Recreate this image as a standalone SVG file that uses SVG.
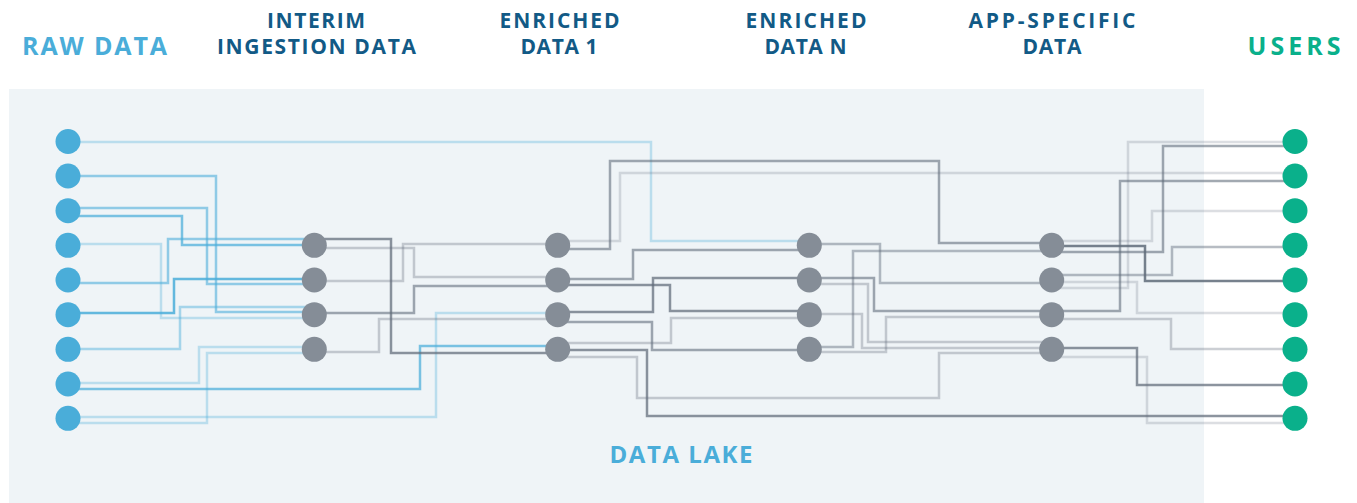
<svg xmlns="http://www.w3.org/2000/svg" width="1357" height="503" viewBox="0 0 1357 503">
<style>
.hd{font-family:"Open Sans","Noto Sans",sans-serif;font-weight:700;fill:#125A86;font-size:21px;text-anchor:middle}
.big{font-family:"Open Sans","Noto Sans",sans-serif;font-weight:700;font-size:25px;text-anchor:middle}
.ln{fill:none;stroke-width:2.5}
.b{stroke:#4AADD9}
.g{stroke:#5F6B79}
.o1{stroke-opacity:.22}.o2{stroke-opacity:.32}.o3{stroke-opacity:.45}.o4{stroke-opacity:.58}.o5{stroke-opacity:.72}.o6{stroke-opacity:.85}
.raw{fill:#4AADD9}.mid{fill:#858D97}.usr{fill:#0AB08B}
</style>
<rect x="9" y="89" width="1195" height="414" fill="#EFF4F7"/>
<g id="headers">
<text class="big" x="94.5" y="54.5" fill="#4AADD9" textLength="145" lengthAdjust="spacing">RAW DATA</text>
<text class="hd" x="316" y="28.3" textLength="98" lengthAdjust="spacing">INTERIM</text>
<text class="hd" x="316.5" y="54.3" textLength="199" lengthAdjust="spacing">INGESTION DATA</text>
<text class="hd" x="559.5" y="28.3" textLength="120" lengthAdjust="spacing">ENRICHED</text>
<text class="hd" x="559" y="54.3" textLength="77" lengthAdjust="spacing">DATA 1</text>
<text class="hd" x="806" y="28.3" textLength="121" lengthAdjust="spacing">ENRICHED</text>
<text class="hd" x="805.5" y="54.3" textLength="82" lengthAdjust="spacing">DATA N</text>
<text class="hd" x="1052" y="28.3" textLength="167" lengthAdjust="spacing">APP-SPECIFIC</text>
<text class="hd" x="1052" y="54.3" textLength="59" lengthAdjust="spacing">DATA</text>
<text class="big" x="1294" y="54.5" fill="#0AB08B" textLength="93" lengthAdjust="spacing">USERS</text>
<text class="big" x="681" y="462.5" fill="#4AADD9" style="font-size:24px" textLength="143" lengthAdjust="spacing">DATA LAKE</text>
</g>
<g id="connectors">
<path class="ln b o2" d="M68 142H651V241H810"/>
<path class="ln b o4" d="M68 176H216V312H314"/>
<path class="ln b o4" d="M68 208H207V284H314"/>
<path class="ln b o5" d="M68 216H182V245H314"/>
<path class="ln b o2" d="M68 244H161V318H314"/>
<path class="ln b o4" d="M68 283H168V239H314"/>
<path class="ln b o6" d="M68 313H174V279H314"/>
<path class="ln b o3" d="M68 349H180V307H314"/>
<path class="ln b o2" d="M68 383H199V347H314"/>
<path class="ln b o5" d="M68 389H420V346H558"/>
<path class="ln b o2" d="M68 417H436V313H558"/>
<path class="ln b o2" d="M68 423H207V353H314"/>
<path class="ln g o5" d="M314 239H391V353H558"/>
<path class="ln g o2" d="M314 248H414V277H558"/>
<path class="ln g o2" d="M314 281H403V244H558"/>
<path class="ln g o4" d="M314 313H414V286H558"/>
<path class="ln g o2" d="M314 352H379V319H558"/>
<path class="ln g o4" d="M558 249H610V161H939V243H1052"/>
<path class="ln g o1" d="M558 241H620V173H1283"/>
<path class="ln g o4" d="M558 279H633V250H810"/>
<path class="ln g o5" d="M558 285H670V311H810"/>
<path class="ln g o5" d="M558 312H653V278H810"/>
<path class="ln g o4" d="M558 322H652V350H810"/>
<path class="ln g o2" d="M558 343H671V318H810"/>
<path class="ln g o5" d="M558 350H647V416H1295"/>
<path class="ln g o2" d="M558 357H637V398H939V353H1052"/>
<path class="ln g o3" d="M810 244H880V283H1052"/>
<path class="ln g o4" d="M810 278H874V311H1052"/>
<path class="ln g o2" d="M810 284H868V342H1052"/>
<path class="ln g o2" d="M810 314H862V348H1052"/>
<path class="ln g o3" d="M810 347H853V251H1052"/>
<path class="ln g o2" d="M810 352H886V317H1052"/>
<path class="ln g o1" d="M1052 241H1152V211H1295"/>
<path class="ln g o6" d="M1052 246H1145V281H1295"/>
<path class="ln g o4" d="M1052 252H1163V146H1295"/>
<path class="ln g o3" d="M1052 275H1172V247H1295"/>
<path class="ln g o1" d="M1052 282H1137V313H1295"/>
<path class="ln g o1" d="M1052 288H1128V142H1295"/>
<path class="ln g o4" d="M1052 311H1120V181H1295"/>
<path class="ln g o2" d="M1052 319H1171V349H1295"/>
<path class="ln g o5" d="M1052 348H1137V385H1295"/>
<path class="ln g o1" d="M1052 357H1147V423H1295"/>
</g>
<g id="raw-data">
<circle id="raw1" class="raw" cx="68" cy="141.5" r="12.5"/>
<circle id="raw2" class="raw" cx="68" cy="176" r="12.5"/>
<circle id="raw3" class="raw" cx="68" cy="210.7" r="12.5"/>
<circle id="raw4" class="raw" cx="68" cy="245.3" r="12.5"/>
<circle id="raw5" class="raw" cx="68" cy="280" r="12.5"/>
<circle id="raw6" class="raw" cx="68" cy="314.7" r="12.5"/>
<circle id="raw7" class="raw" cx="68" cy="349.3" r="12.5"/>
<circle id="raw8" class="raw" cx="68" cy="384" r="12.5"/>
<circle id="raw9" class="raw" cx="68" cy="418.3" r="12.5"/>
</g>
<g id="interim">
<circle id="int1" class="mid" cx="314.3" cy="245.3" r="12.5"/>
<circle id="int2" class="mid" cx="314.3" cy="280" r="12.5"/>
<circle id="int3" class="mid" cx="314.3" cy="314.7" r="12.5"/>
<circle id="int4" class="mid" cx="314.3" cy="349.3" r="12.5"/>
</g>
<g id="enriched-1">
<circle id="e1n1" class="mid" cx="557.7" cy="245.3" r="12.5"/>
<circle id="e1n2" class="mid" cx="557.7" cy="280" r="12.5"/>
<circle id="e1n3" class="mid" cx="557.7" cy="314.7" r="12.5"/>
<circle id="e1n4" class="mid" cx="557.7" cy="349.3" r="12.5"/>
</g>
<g id="enriched-n">
<circle id="enn1" class="mid" cx="809.3" cy="245.3" r="12.5"/>
<circle id="enn2" class="mid" cx="809.3" cy="280" r="12.5"/>
<circle id="enn3" class="mid" cx="809.3" cy="314.7" r="12.5"/>
<circle id="enn4" class="mid" cx="809.3" cy="349.3" r="12.5"/>
</g>
<g id="app-specific">
<circle id="app1" class="mid" cx="1051.7" cy="245.3" r="12.5"/>
<circle id="app2" class="mid" cx="1051.7" cy="280" r="12.5"/>
<circle id="app3" class="mid" cx="1051.7" cy="314.7" r="12.5"/>
<circle id="app4" class="mid" cx="1051.7" cy="349.3" r="12.5"/>
</g>
<g id="users">
<circle id="usr1" class="usr" cx="1295" cy="141.5" r="12.5"/>
<circle id="usr2" class="usr" cx="1295" cy="176" r="12.5"/>
<circle id="usr3" class="usr" cx="1295" cy="210.7" r="12.5"/>
<circle id="usr4" class="usr" cx="1295" cy="245.3" r="12.5"/>
<circle id="usr5" class="usr" cx="1295" cy="280" r="12.5"/>
<circle id="usr6" class="usr" cx="1295" cy="314.7" r="12.5"/>
<circle id="usr7" class="usr" cx="1295" cy="349.3" r="12.5"/>
<circle id="usr8" class="usr" cx="1295" cy="384" r="12.5"/>
<circle id="usr9" class="usr" cx="1295" cy="418.3" r="12.5"/>
</g>
</svg>
